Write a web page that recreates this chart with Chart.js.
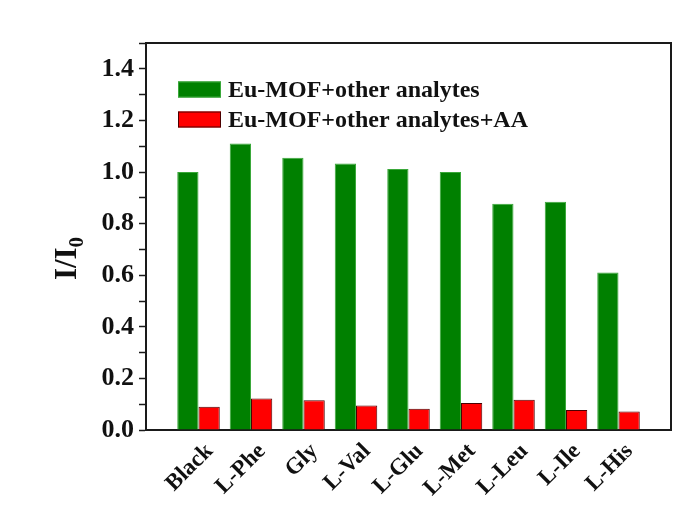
<!DOCTYPE html>
<html>
<head>
<meta charset="utf-8">
<title>I/I0 response of Eu-MOF to amino acids</title>
<script src="https://cdn.jsdelivr.net/npm/chart.js@4.4.1/dist/chart.umd.min.js"></script>
<style>
  html, body { margin: 0; padding: 0; background: #ffffff; }
  #wrap { width: 697px; height: 531px; position: relative; }
</style>
</head>
<body>
<div id="wrap"><canvas id="c" width="697" height="531"></canvas></div>
<script>
// Analytes on the category axis
const analytes = ['Black', 'L-Phe', 'Gly', 'L-Val', 'L-Glu', 'L-Met', 'L-Leu', 'L-Ile', 'L-His'];
// Relative intensity I/I0 for each analyte
const mofWithAnalytes = [1.00, 1.11, 1.055, 1.033, 1.012, 1.00, 0.877, 0.885, 0.61];
const mofWithAnalytesAA = [0.09, 0.122, 0.115, 0.095, 0.082, 0.105, 0.117, 0.078, 0.072];
// Series names
const seriesNames = ['Eu-MOF+other analytes', 'Eu-MOF+other analytes+AA'];
// Y axis range and labelled ticks
const yMin = 0, yMax = 1.5, yStep = 0.1;
const yTickLabels = ['0.0', '0.2', '0.4', '0.6', '0.8', '1.0', '1.2', '1.4'];

// One empty slot at each end leaves a full category gap beside the frame
const labels = [''].concat(analytes, ['']);
const pad = arr => [null].concat(arr, [null]);

const AXIS = '#1a1a1a';
const SERIF = '"Liberation Serif", "Times New Roman", serif';

// Frame around the plot: top and right edges
const framePlugin = {
  id: 'frame',
  afterDraw(chart) {
    const { ctx, chartArea: a } = chart;
    ctx.save();
    ctx.strokeStyle = AXIS;
    ctx.lineWidth = 2;
    ctx.beginPath();
    ctx.moveTo(a.left, a.top);
    ctx.lineTo(a.right, a.top);
    ctx.lineTo(a.right, a.bottom);
    ctx.stroke();
    ctx.restore();
  }
};

// Legend inside the plot, top-left
const insideLegend = {
  id: 'insideLegend',
  afterDraw(chart) {
    const { ctx, chartArea: a } = chart;
    const x0 = a.left + 32, y0 = a.top + 46.5, rowH = 30, bw = 43, bh = 16;
    ctx.save();
    ctx.font = 'bold 24px ' + SERIF;
    ctx.textBaseline = 'middle';
    ctx.textAlign = 'left';
    chart.data.datasets.forEach((ds, i) => {
      const cy = y0 + i * rowH;
      ctx.fillStyle = ds.backgroundColor;
      ctx.fillRect(x0, cy - bh / 2, bw, bh);
      ctx.strokeStyle = ds.borderColor;
      ctx.lineWidth = 1;
      ctx.strokeRect(x0 + 0.5, cy - bh / 2 + 0.5, bw - 1, bh - 1);
      ctx.fillStyle = '#111';
      ctx.fillText(ds.label, x0 + bw + 7, cy + 1);
    });
    ctx.restore();
  }
};

// Y axis title I/I0 with subscript
const yTitle = {
  id: 'yTitle',
  afterDraw(chart) {
    const { ctx, chartArea: a } = chart;
    const main = 'I/I', sub = '0';
    ctx.save();
    ctx.fillStyle = '#111';
    ctx.font = 'bold 31px ' + SERIF;
    const wMain = ctx.measureText(main).width;
    ctx.font = 'bold 21px ' + SERIF;
    const wSub = ctx.measureText(sub).width;
    const total = wMain + wSub;
    const cx = 76, cy = (a.top + a.bottom) / 2 + 22;
    ctx.translate(cx, cy);
    ctx.rotate(-Math.PI / 2);
    ctx.textBaseline = 'alphabetic';
    ctx.textAlign = 'left';
    ctx.font = 'bold 31px ' + SERIF;
    ctx.fillText(main, -total / 2, 0);
    ctx.font = 'bold 21px ' + SERIF;
    ctx.fillText(sub, -total / 2 + wMain, 7);
    ctx.restore();
  }
};

new Chart(document.getElementById('c'), {
  type: 'bar',
  data: {
    labels: labels,
    datasets: [
      {
        label: seriesNames[0],
        data: pad(mofWithAnalytes),
        backgroundColor: '#008000',
        borderColor: '#3aa83a',
        borderWidth: 1,
        categoryPercentage: 0.81,
        barPercentage: 1.0
      },
      {
        label: seriesNames[1],
        data: pad(mofWithAnalytesAA),
        backgroundColor: '#ff0000',
        borderColor: '#4a0000',
        borderWidth: 1,
        categoryPercentage: 0.81,
        barPercentage: 1.0
      }
    ]
  },
  options: {
    responsive: false,
    animation: false,
    layout: { padding: { left: 0, top: 43, right: 26, bottom: 0 } },
    plugins: {
      legend: { display: false },
      tooltip: { enabled: false }
    },
    scales: {
      x: {
        type: 'category',
        offset: false,
        grid: { display: false },
        border: { display: true, color: AXIS, width: 2 },
        ticks: {
          autoSkip: false,
          maxRotation: 45,
          minRotation: 45,
          padding: 0,
          labelOffset: 11,
          color: '#111',
          font: { family: SERIF, size: 23, weight: 'bold' }
        },
        afterFit(scale) { scale.height = 101; }
      },
      y: {
        min: yMin,
        max: yMax,
        grid: {
          drawOnChartArea: false,
          drawTicks: true,
          tickLength: 7,
          tickWidth: 1.5,
          tickColor: AXIS
        },
        border: { display: true, color: AXIS, width: 2 },
        ticks: {
          stepSize: yStep,
          autoSkip: false,
          padding: 5,
          color: '#111',
          font: { family: SERIF, size: 26, weight: 'bold' },
          callback(value) {
            const k = Math.round(value * 10);
            return (k % 2 === 0) ? (yTickLabels[k / 2] || '') : '';
          }
        },
        afterFit(scale) { scale.width = 146; }
      }
    }
  },
  plugins: [framePlugin, insideLegend, yTitle]
});
</script>
</body>
</html>
